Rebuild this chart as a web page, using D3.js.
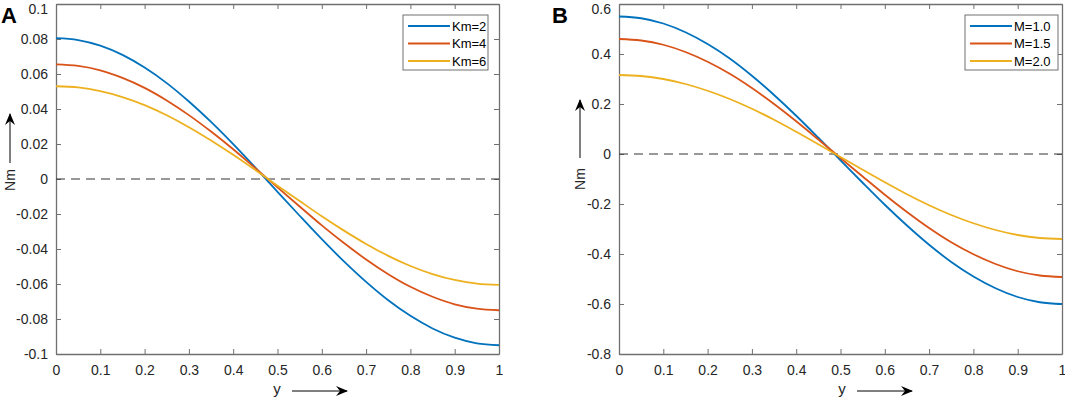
<!DOCTYPE html>
<meta charset="utf-8">
<style>
  body { margin: 0; background: #fff; }
  svg { font-family: 'Liberation Sans', Arial, sans-serif; }
  .tick text { font-size: 14px; fill: #262626; }
  .legend text { font-size: 13px; fill: #000; }
</style>
<body>
</body>
<script src="https://cdn.jsdelivr.net/npm/d3@7"></script>
<script>
  // sample positions along y (x axis)
  const xs = [0, 0.05, 0.1, 0.15, 0.2, 0.25, 0.3, 0.35, 0.4, 0.45, 0.5,
              0.55, 0.6, 0.65, 0.7, 0.75, 0.8, 0.85, 0.9, 0.95, 1];

  // panel A, Nm vs y for Km
  const kmLabels = ['Km=2', 'Km=4', 'Km=6'];
  const km2 = [0.0805, 0.0794, 0.0762, 0.0709, 0.0637, 0.0548, 0.0443, 0.0326, 0.0199, 0.0065, -0.0073,
               -0.0210, -0.0344, -0.0471, -0.0588, -0.0693, -0.0782, -0.0854, -0.0907, -0.0939, -0.0950];
  const km4 = [0.0655, 0.0646, 0.0621, 0.0578, 0.0521, 0.0449, 0.0365, 0.0271, 0.0170, 0.0062, -0.0048,
               -0.0157, -0.0265, -0.0366, -0.0460, -0.0544, -0.0616, -0.0673, -0.0716, -0.0741, -0.0750];
  const km6 = [0.0530, 0.0523, 0.0502, 0.0468, 0.0422, 0.0364, 0.0296, 0.0220, 0.0138, 0.0051, -0.0038,
               -0.0126, -0.0213, -0.0295, -0.0371, -0.0439, -0.0497, -0.0543, -0.0577, -0.0598, -0.0605];
  const yTicksA = [-0.1, -0.08, -0.06, -0.04, -0.02, 0, 0.02, 0.04, 0.06, 0.08, 0.1];

  // panel B, Nm vs y for M
  const mLabels = ['M=1.0', 'M=1.5', 'M=2.0'];
  const m10 = [0.550, 0.543, 0.522, 0.487, 0.440, 0.382, 0.313, 0.236, 0.153, 0.065, -0.025,
               -0.115, -0.203, -0.286, -0.363, -0.432, -0.490, -0.537, -0.572, -0.593, -0.600];
  const m15 = [0.460, 0.454, 0.437, 0.408, 0.369, 0.321, 0.264, 0.200, 0.131, 0.058, -0.016,
               -0.090, -0.163, -0.232, -0.296, -0.353, -0.401, -0.440, -0.469, -0.486, -0.492];
  const m20 = [0.316, 0.312, 0.300, 0.280, 0.253, 0.220, 0.181, 0.137, 0.089, 0.039, -0.012,
               -0.063, -0.113, -0.161, -0.205, -0.244, -0.277, -0.304, -0.324, -0.336, -0.340];
  const yTicksB = [-0.8, -0.6, -0.4, -0.2, 0, 0.2, 0.4, 0.6];

  const xTicks = [0, 0.1, 0.2, 0.3, 0.4, 0.5, 0.6, 0.7, 0.8, 0.9, 1];
  const colors = ['#0072BD', '#D95319', '#EDB120'];

  const svg = d3.select('body').append('svg')
    .attr('width', 1065)
    .attr('height', 397);

  const defs = svg.append('defs');
  defs.append('marker')
    .attr('id', 'arrow')
    .attr('viewBox', '0 0 12 10')
    .attr('refX', 11).attr('refY', 5)
    .attr('markerWidth', 13).attr('markerHeight', 10)
    .attr('markerUnits', 'userSpaceOnUse')
    .attr('orient', 'auto')
    .append('path')
      .attr('d', 'M0,0 L12,5 L0,10 L4,5 Z')
      .attr('fill', '#000');

  // plain hyphen like the original, not the unicode minus
  const fmt = d => String(+d.toFixed(2));

  function panel(p) {
    const g = svg.append('g');
    const x = d3.scaleLinear().domain([0, 1]).range([p.l, p.r]);
    const y = d3.scaleLinear().domain(p.ydom).range([p.b, p.t]);
    const axisColor = '#707070';

    // MATLAB style box, ticks inward on all sides
    const bottom = g.append('g').attr('transform', `translate(0,${p.b})`)
      .call(d3.axisBottom(x).tickValues(xTicks).tickSize(-5).tickPadding(11).tickFormat(fmt).tickSizeOuter(0));
    const top = g.append('g').attr('transform', `translate(0,${p.t})`)
      .call(d3.axisTop(x).tickValues(xTicks).tickSize(-5).tickFormat('').tickSizeOuter(0));
    const left = g.append('g').attr('transform', `translate(${p.l},0)`)
      .call(d3.axisLeft(y).tickValues(p.yticks).tickSize(-5).tickPadding(8).tickFormat(fmt).tickSizeOuter(0));
    const right = g.append('g').attr('transform', `translate(${p.r},0)`)
      .call(d3.axisRight(y).tickValues(p.yticks).tickSize(-5).tickFormat('').tickSizeOuter(0));
    [bottom, top, left, right].forEach(a => {
      a.select('.domain').attr('stroke', axisColor).attr('stroke-width', 1.3);
      a.selectAll('.tick line').attr('stroke', axisColor);
    });
    // keep the top label inside the picture
    left.selectAll('.tick text').filter(d => d === p.ydom[1]).attr('dy', '0.65em');

    // zero reference line
    g.append('line')
      .attr('x1', x(0)).attr('x2', x(1))
      .attr('y1', y(0)).attr('y2', y(0))
      .attr('stroke', '#333').attr('stroke-width', 1)
      .attr('stroke-dasharray', '9,6');

    const line = d3.line()
      .x((d, i) => x(xs[i]))
      .y(d => y(d))
      .curve(d3.curveMonotoneX);

    g.append('g').selectAll('path')
      .data(p.series)
      .join('path')
      .attr('d', d => line(d))
      .attr('fill', 'none')
      .attr('stroke', (d, i) => colors[i])
      .attr('stroke-width', 1.8);

    // legend
    const lg = g.append('g').attr('class', 'legend');
    lg.append('rect')
      .attr('x', p.leg.x).attr('y', 15)
      .attr('width', p.leg.w).attr('height', 55)
      .attr('fill', '#fff').attr('stroke', '#707070').attr('stroke-width', 1);
    const items = lg.selectAll('g.item')
      .data(p.labels)
      .join('g')
      .attr('class', 'item')
      .attr('transform', (d, i) => `translate(${p.leg.x + 5},${26 + i * 17.5})`);
    items.append('line')
      .attr('x1', 0).attr('x2', p.leg.lw)
      .attr('stroke', (d, i) => colors[i])
      .attr('stroke-width', 1.8);
    items.append('text')
      .attr('x', p.leg.lw + 2).attr('dy', '0.35em')
      .text(d => d);

    // panel letter
    g.append('text')
      .attr('x', p.letterX).attr('y', 23)
      .attr('font-size', 22).attr('font-weight', 'bold')
      .text(p.letter);

    // y axis label with arrow
    g.append('text')
      .attr('transform', `translate(${p.nmX},${p.nmY}) rotate(-90)`)
      .attr('text-anchor', 'middle')
      .attr('font-size', 14).attr('fill', '#262626')
      .text('Nm');
    g.append('line')
      .attr('x1', p.nmX - 5).attr('x2', p.nmX - 5)
      .attr('y1', p.arrowY[0]).attr('y2', p.arrowY[1])
      .attr('stroke', '#000').attr('stroke-width', 1)
      .attr('marker-end', 'url(#arrow)');

    // x axis label with arrow
    g.append('text')
      .attr('x', p.yLabX).attr('y', 394)
      .attr('text-anchor', 'middle')
      .attr('font-size', 15).attr('fill', '#262626')
      .text('y');
    g.append('line')
      .attr('x1', p.yLabX + 15).attr('x2', p.yLabX + 70)
      .attr('y1', 391).attr('y2', 391)
      .attr('stroke', '#000').attr('stroke-width', 1)
      .attr('marker-end', 'url(#arrow)');
  }

  panel({
    l: 56, r: 499, t: 4, b: 354,
    ydom: [-0.1, 0.1], yticks: yTicksA,
    series: [km2, km4, km6], labels: kmLabels,
    leg: {x: 403, w: 85, lw: 42},
    letter: 'A', letterX: 1,
    nmX: 15, nmY: 180, arrowY: [163, 114],
    yLabX: 277
  });

  panel({
    l: 619, r: 1062, t: 4, b: 354,
    ydom: [-0.8, 0.6], yticks: yTicksB,
    series: [m10, m15, m20], labels: mLabels,
    leg: {x: 965, w: 93, lw: 42},
    letter: 'B', letterX: 552,
    nmX: 585, nmY: 179, arrowY: [158, 100],
    yLabX: 842
  });
</script>
